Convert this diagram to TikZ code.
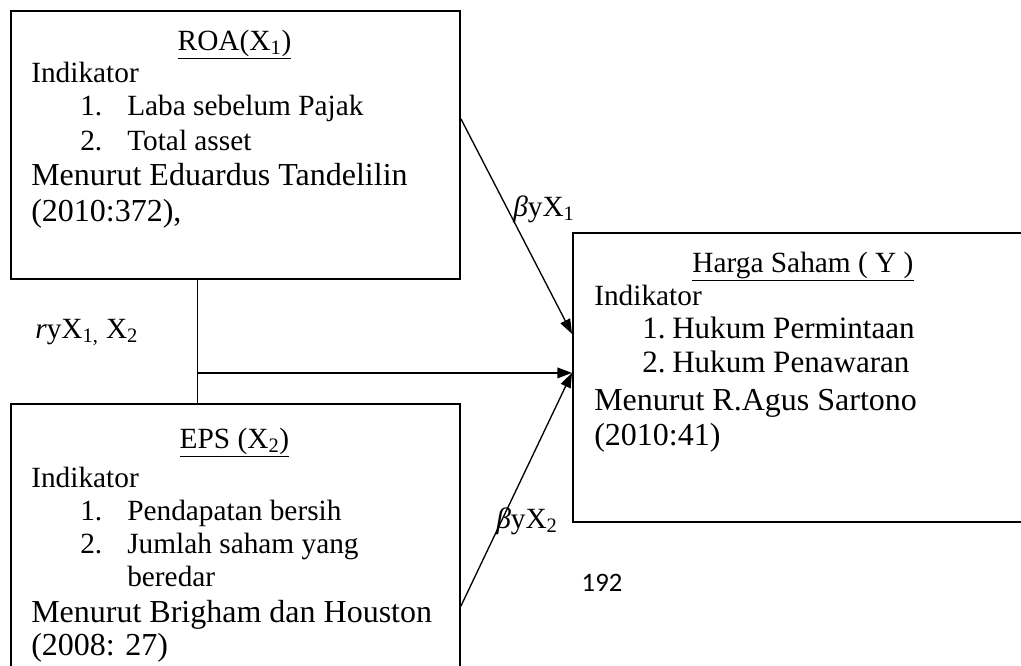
\documentclass[tikz,border=0pt]{standalone}
\usepackage{fontspec}
\setmainfont{Liberation Serif}
\newfontfamily\calibrifont{Carlito}
\usetikzlibrary{arrows.meta,calc}
\begin{document}
\begin{tikzpicture}[x=0.75pt,y=-0.75pt,
  boxst/.style={draw, line width=1.4pt, anchor=north west, inner sep=0pt},
  txt/.style={anchor=base west, inner sep=0pt, font=\fontsize{22}{26}\selectfont},
  htxt/.style={anchor=base west, inner sep=0pt, font=\fontsize{23.3}{27}\selectfont},
  big/.style={anchor=base west, inner sep=0pt, font=\fontsize{24}{28}\selectfont},
  ttl/.style={anchor=base, inner sep=0pt, font=\fontsize{22}{26}\selectfont},
  num/.style={anchor=base west, inner sep=0pt, font=\fontsize{22}{26}\selectfont},
  arr/.style={line width=1pt, -{Triangle[length=11pt,width=8pt]}},
  ln/.style={line width=1pt}]
\useasboundingbox (0,0) rectangle (1021,665);
\fill[white] (0,0) rectangle (1021,665);
\clip (0,0) rectangle (1021,665);

% boxes
\node[boxst, minimum width=336.75pt, minimum height=201pt] (roa) at (10,10) {};
\node[boxst, minimum width=336.75pt, minimum height=225pt] (eps) at (10,403) {};
\node[boxst, minimum width=351pt, minimum height=216.75pt] (harga) at (572,232) {};

% ROA box text
\node[ttl] (roaT) at (234.5,50) {\underline{ROA(X\textsubscript{1})}};
\node[txt] (roaI) at (31,82) {Indikator};
\node[num] (roaN1) at (80,115) {1.};
\node[txt] (roaL1) at (127,115) {Laba sebelum Pajak};
\node[num] (roaN2) at (80,150) {2.};
\node[txt] (roaL2) at (127,150) {Total asset};
\node[big] (roaM) at (31,185) {Menurut Eduardus Tandelilin};
\node[big] (roaY) at (31,221) {(2010:372),};

% EPS box text
\node[ttl] (epsT) at (234.5,448) {\underline{EPS (X\textsubscript{2})}};
\node[txt] (epsI) at (31,487) {Indikator};
\node[num] (epsN1) at (80,520) {1.};
\node[txt] (epsL1) at (127,520) {Pendapatan bersih};
\node[num] (epsN2) at (80,553) {2.};
\node[txt] (epsL2) at (127,553) {Jumlah saham yang};
\node[txt] (epsL3) at (127,586) {beredar};
\node[big] (epsM) at (31,622) {Menurut Brigham dan Houston};
\node[big] (epsY) at (31,655) {(2008: 27)};

% Harga box text
\node[ttl] (hT) at (803,272) {\underline{Harga Saham ( Y )}};
\node[txt] (hI) at (594,305) {Indikator};
\node[htxt] (hN1) at (642,338) {1.};
\node[htxt] (hL1) at (672,338) {Hukum Permintaan};
\node[htxt] (hN2) at (642,372) {2.};
\node[htxt] (hL2) at (672,372) {Hukum Penawaran};
\node[big] (hM) at (594,410) {Menurut R.Agus Sartono};
\node[big] (hY) at (594,445) {(2010:41)};

% connectors
\coordinate (hin) at ($(harga.north west)!0.4844!(harga.south west)$);
\coordinate (hup) at ($(harga.north west)!0.35!(harga.south west)$);
\coordinate (jtop) at ($(roa.south west)!0.4165!(roa.south east)$);
\coordinate (jbot) at ($(eps.north west)!0.4165!(eps.north east)$);
\draw[ln] (jtop) -- (jbot);
\draw[arr] ($(roa.north east)!0.403!(roa.south east)$) -- (hup);
\draw[arr] (jtop |- hin) -- (hin);
\draw[arr] ($(eps.north east)!0.673!(eps.south east)$) -- (hin);

% labels
\node[txt] (b1) at (513,216) {\textit{β}yX\textsubscript{1}};
\node[txt] (rr) at (35,338) {\textit{r}yX\textsubscript{1,} X\textsubscript{2}};
\node[txt] (b2) at (496,528) {\textit{β}yX\textsubscript{2}};
\node[anchor=base, inner sep=0pt, font=\calibrifont\fontsize{20}{24}\selectfont] (pg) at (602,591) {192};
\end{tikzpicture}
\end{document}
